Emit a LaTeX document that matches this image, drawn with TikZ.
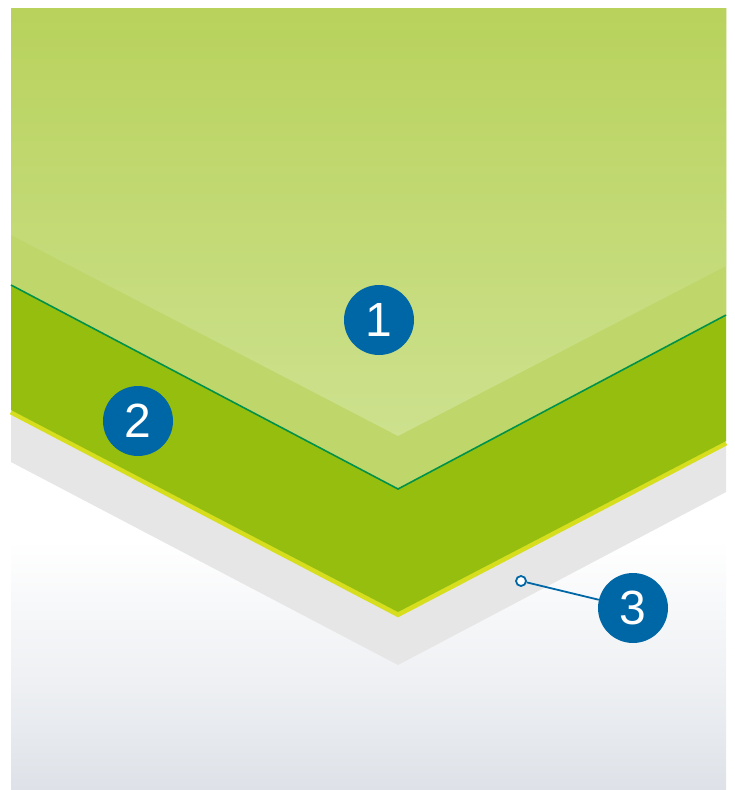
\documentclass[tikz,border=0pt]{standalone}
\usepackage{fontspec}
\setmainfont{Liberation Sans}
\IfFontExistsTF{FiraSans-Light.otf}{\newfontfamily\numfont{FiraSans-Light.otf}}{\newfontfamily\numfont{Liberation Sans}}
\definecolor{topA}{HTML}{B8D25C}
\definecolor{topB}{HTML}{CDE18E}
\definecolor{midband}{HTML}{BFD66A}
\definecolor{darkband}{HTML}{96BE0F}
\definecolor{yellowline}{HTML}{D6DE1E}
\definecolor{greenline}{HTML}{00924A}
\definecolor{grayband}{HTML}{E6E6E6}
\definecolor{bgbottom}{HTML}{DEE2E8}
\definecolor{bluec}{HTML}{0067A7}
\tikzset{
  numcircle/.style={circle, fill=bluec, minimum size=70pt, inner sep=0pt, text=white, font=\numfont\fontsize{48}{48}\selectfont},
  smallring/.style={circle, draw=bluec, line width=1.8pt, fill=white, minimum size=10pt, inner sep=0pt},
}
\begin{document}
\begin{tikzpicture}[x=1pt,y=-1pt]
\useasboundingbox (0,0) rectangle (735,790);
% background panel
\fill[white] (11,8) rectangle (726,540);
\shade[top color=white, bottom color=white!45!bgbottom] (11,540) rectangle (726,690);
\shade[top color=white!45!bgbottom, bottom color=bgbottom] (11,690) rectangle (726,789);
% gray band
\fill[grayband] (11,8) -- (726,8) -- (726,492) -- (398,665) -- (11,462) -- cycle;
% yellow line
\draw[yellowline, line width=5pt] (11,412) -- (398,614.5) -- (726,443);
% dark band
\fill[darkband] (11,8) -- (726,8) -- (726,441) -- (398,612) -- (11,410) -- cycle;
% middle band
\fill[midband] (11,8) -- (726,8) -- (726,315) -- (398,489) -- (11,285) -- cycle;
\draw[greenline, line width=1.6pt] (11,285) -- (398,489) -- (726,315);
% top light region
\shade[shading angle=20, top color=topA, bottom color=topB] (11,8) -- (726,8) -- (726,266) -- (398,436) -- (11,235) -- cycle;
% callouts
\node[numcircle] (c1) at (379,320) {1};
\node[numcircle] (c2) at (138,421) {2};
\node[numcircle] (c3) at (633,608) {3};
\node[smallring] (r3) at (521,581) {};
\draw[bluec, line width=1.8pt] (r3) -- (c3);
\end{tikzpicture}
\end{document}
